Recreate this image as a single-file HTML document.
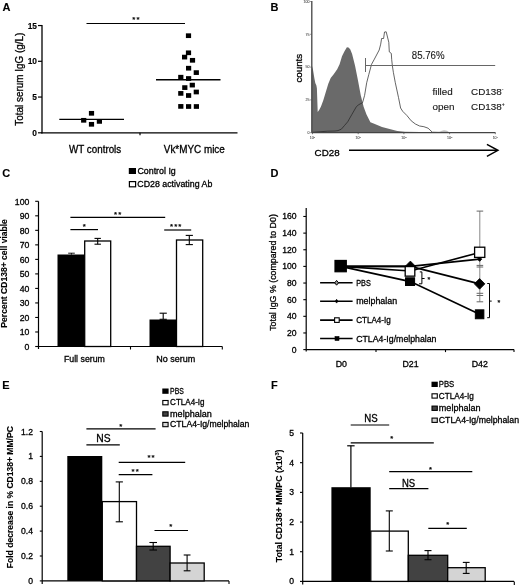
<!DOCTYPE html>
<html><head><meta charset="utf-8"><style>
html,body{margin:0;padding:0;background:#fff;width:520px;height:586px;overflow:hidden}
svg{display:block;font-family:"Liberation Sans", sans-serif;filter:grayscale(1) blur(0.3px)}
text{stroke-width:0.3px}
text[font-weight=bold]{stroke-width:0.12px}
</style></head><body>
<svg width="520" height="586" viewBox="0 0 520 586">
<rect width="520" height="586" fill="#fff"/>
<text x="2.5" y="11.2" font-size="11" text-anchor="start" fill="#000" stroke="#000" font-weight="bold" >A</text>
<line x1="42" y1="25.05" x2="42" y2="133.4" stroke="#000" stroke-width="1.3" />
<line x1="41.4" y1="132.8" x2="237.5" y2="132.8" stroke="#000" stroke-width="1.3" />
<line x1="38" y1="132.8" x2="42" y2="132.8" stroke="#000" stroke-width="1.2" />
<text x="37" y="135.8" font-size="8.4" text-anchor="end" fill="#000" stroke="#000" font-weight="bold" >0</text>
<line x1="38" y1="97.05" x2="42" y2="97.05" stroke="#000" stroke-width="1.2" />
<text x="37" y="100.05" font-size="8.4" text-anchor="end" fill="#000" stroke="#000" font-weight="bold" >5</text>
<line x1="38" y1="61.3" x2="42" y2="61.3" stroke="#000" stroke-width="1.2" />
<text x="37" y="64.3" font-size="8.4" text-anchor="end" fill="#000" stroke="#000" font-weight="bold" >10</text>
<line x1="38" y1="25.55" x2="42" y2="25.55" stroke="#000" stroke-width="1.2" />
<text x="37" y="28.55" font-size="8.4" text-anchor="end" fill="#000" stroke="#000" font-weight="bold" >15</text>
<line x1="140" y1="132.8" x2="140" y2="135.3" stroke="#000" stroke-width="1.2" />
<text x="23.2" y="79.2" font-size="10" text-anchor="middle" fill="#000" stroke="#000" textLength="93" lengthAdjust="spacingAndGlyphs" transform="rotate(-90 23.2 79.2)" >Total serum IgG (g/L)</text>
<text x="95.1" y="153.2" font-size="10.2" text-anchor="middle" fill="#000" stroke="#000" textLength="52.2" lengthAdjust="spacingAndGlyphs" >WT controls</text>
<text x="194.3" y="153.2" font-size="10.2" text-anchor="middle" fill="#000" stroke="#000" textLength="61" lengthAdjust="spacingAndGlyphs" >Vk*MYC mice</text>
<line x1="86.5" y1="23.5" x2="185" y2="23.5" stroke="#000" stroke-width="1.2" />
<text x="136.39" y="21.6" font-size="7.8" text-anchor="middle" fill="#000" stroke="#000" font-weight="bold" letter-spacing="1.17">**</text>
<rect x="81.1" y="117.95" width="5.2" height="4.7" fill="#000" stroke="none" stroke-width="0"/>
<rect x="88.9" y="110.95" width="5.2" height="4.7" fill="#000" stroke="none" stroke-width="0"/>
<rect x="88.9" y="121.95" width="5.2" height="4.7" fill="#000" stroke="none" stroke-width="0"/>
<rect x="96.8" y="119.05" width="5.2" height="4.7" fill="#000" stroke="none" stroke-width="0"/>
<rect x="185.9" y="33.35" width="5.2" height="4.7" fill="#000" stroke="none" stroke-width="0"/>
<rect x="185.9" y="50.45" width="5.2" height="4.7" fill="#000" stroke="none" stroke-width="0"/>
<rect x="182.0" y="54.75" width="5.2" height="4.7" fill="#000" stroke="none" stroke-width="0"/>
<rect x="189.9" y="57.95" width="5.2" height="4.7" fill="#000" stroke="none" stroke-width="0"/>
<rect x="186.0" y="65.85" width="5.2" height="4.7" fill="#000" stroke="none" stroke-width="0"/>
<rect x="193.7" y="70.25" width="5.2" height="4.7" fill="#000" stroke="none" stroke-width="0"/>
<rect x="178.2" y="74.85" width="5.2" height="4.7" fill="#000" stroke="none" stroke-width="0"/>
<rect x="186.0" y="76.15" width="5.2" height="4.7" fill="#000" stroke="none" stroke-width="0"/>
<rect x="189.7" y="82.75" width="5.2" height="4.7" fill="#000" stroke="none" stroke-width="0"/>
<rect x="182.2" y="85.25" width="5.2" height="4.7" fill="#000" stroke="none" stroke-width="0"/>
<rect x="178.2" y="91.05" width="5.2" height="4.7" fill="#000" stroke="none" stroke-width="0"/>
<rect x="186.0" y="93.15" width="5.2" height="4.7" fill="#000" stroke="none" stroke-width="0"/>
<rect x="193.7" y="89.65" width="5.2" height="4.7" fill="#000" stroke="none" stroke-width="0"/>
<rect x="178.2" y="104.05" width="5.2" height="4.7" fill="#000" stroke="none" stroke-width="0"/>
<rect x="186.0" y="104.15" width="5.2" height="4.7" fill="#000" stroke="none" stroke-width="0"/>
<rect x="193.8" y="104.15" width="5.2" height="4.7" fill="#000" stroke="none" stroke-width="0"/>
<line x1="59.3" y1="119.4" x2="124" y2="119.4" stroke="#000" stroke-width="1.35" />
<line x1="156" y1="79.7" x2="220.5" y2="79.7" stroke="#000" stroke-width="1.35" />
<text x="270.6" y="11.2" font-size="11" text-anchor="start" fill="#000" stroke="#000" font-weight="bold" >B</text>
<polygon points="312,132.7 312,66 312.9,69.2 314.5,78.9 315.3,83 316.4,85.4 316.9,88.6 317.7,112.1 319.3,109.7 321,106.5 323.4,100 325.8,91.9 328.3,83.8 330.7,78.1 333.9,74 337.2,69.2 339.6,64.3 342,56.2 344.5,51.3 346.9,47.3 348.5,47.5 350.2,49.2 352.1,54 355,65.6 357.9,80 360.8,95.4 363.7,107 366.5,114.6 370.4,122.3 374.2,123.8 382,127 389.6,129 397.3,131 405,131.8 420,132 440,132 455,132.4 460,132.7" fill="#6a6a6a"/>
<polygon points="438,132.7 441,131 444,130.2 447,130.8 450,132.7" fill="#bbb"/>
<polyline points="312,132.4 327.4,131.2 335,131 338,130.6 341.3,129.2 344.5,125.5 347.7,121.8 351.9,114.4 356.2,107 358.3,104.9 360.4,103.8 362.5,102.8 364.6,95.4 366.7,82.7 368.8,74.5 371.5,64.4 374.4,59.1 379.2,50 380.7,44.2 381.6,38.5 383.6,38.5 384.5,32 386.2,31.8 388.8,42.3 389.3,51.9 391.3,53.4 391.7,59.6 392.4,66 393.4,72.5 395.3,82.7 398.5,97.5 400.6,108 402.7,111.3 406.9,115.5 411.2,120.8 415.4,124 419.6,126 423.9,126.7 428.1,128.2 432.3,132.2 440,132.4" fill="none" stroke="#222" stroke-width="0.7" stroke-linejoin="round"/>
<line x1="311.8" y1="1" x2="311.8" y2="132.7" stroke="#444" stroke-width="1.3" />
<line x1="311.8" y1="132.7" x2="495.5" y2="132.7" stroke="#444" stroke-width="1.3" />
<line x1="310.3" y1="132.7" x2="311.8" y2="132.7" stroke="#555" stroke-width="0.8" />
<text x="309.5" y="133.9" font-size="3.6" text-anchor="end" fill="#555" stroke="#555" style="stroke-width:0.1px">0</text>
<line x1="310.3" y1="99.9" x2="311.8" y2="99.9" stroke="#555" stroke-width="0.8" />
<text x="309.5" y="101.1" font-size="3.6" text-anchor="end" fill="#555" stroke="#555" style="stroke-width:0.1px">25</text>
<line x1="310.3" y1="67.1" x2="311.8" y2="67.1" stroke="#555" stroke-width="0.8" />
<text x="309.5" y="68.3" font-size="3.6" text-anchor="end" fill="#555" stroke="#555" style="stroke-width:0.1px">50</text>
<line x1="310.3" y1="34.3" x2="311.8" y2="34.3" stroke="#555" stroke-width="0.8" />
<text x="309.5" y="35.5" font-size="3.6" text-anchor="end" fill="#555" stroke="#555" style="stroke-width:0.1px">75</text>
<line x1="310.3" y1="1.5" x2="311.8" y2="1.5" stroke="#555" stroke-width="0.8" />
<text x="309.5" y="2.7" font-size="3.6" text-anchor="end" fill="#555" stroke="#555" style="stroke-width:0.1px">100</text>
<line x1="312.5" y1="132.7" x2="312.5" y2="134.2" stroke="#555" stroke-width="0.8" />
<text x="312.5" y="138.8" font-size="3.6" text-anchor="middle" fill="#555" stroke="#555" style="stroke-width:0.1px">10<tspan font-size="2.4" dy="-1.2">0</tspan></text>
<line x1="358.2" y1="132.7" x2="358.2" y2="134.2" stroke="#555" stroke-width="0.8" />
<text x="358.2" y="138.8" font-size="3.6" text-anchor="middle" fill="#555" stroke="#555" style="stroke-width:0.1px">10<tspan font-size="2.4" dy="-1.2">1</tspan></text>
<line x1="403.9" y1="132.7" x2="403.9" y2="134.2" stroke="#555" stroke-width="0.8" />
<text x="403.9" y="138.8" font-size="3.6" text-anchor="middle" fill="#555" stroke="#555" style="stroke-width:0.1px">10<tspan font-size="2.4" dy="-1.2">2</tspan></text>
<line x1="449.6" y1="132.7" x2="449.6" y2="134.2" stroke="#555" stroke-width="0.8" />
<text x="449.6" y="138.8" font-size="3.6" text-anchor="middle" fill="#555" stroke="#555" style="stroke-width:0.1px">10<tspan font-size="2.4" dy="-1.2">3</tspan></text>
<line x1="495.3" y1="132.7" x2="495.3" y2="134.2" stroke="#555" stroke-width="0.8" />
<text x="495.3" y="138.8" font-size="3.6" text-anchor="middle" fill="#555" stroke="#555" style="stroke-width:0.1px">10<tspan font-size="2.4" dy="-1.2">4</tspan></text>
<text x="301.9" y="68.2" font-size="9.8" text-anchor="middle" fill="#000" stroke="#000" textLength="28.7" lengthAdjust="spacingAndGlyphs" transform="rotate(-90 301.9 68.2)" >counts</text>
<line x1="365.5" y1="58" x2="365.5" y2="72" stroke="#666" stroke-width="1.0" />
<line x1="365.5" y1="65.5" x2="495.2" y2="65.5" stroke="#666" stroke-width="1.0" />
<text x="411.8" y="58.8" font-size="10" text-anchor="start" fill="#1a1a1a" stroke="#1a1a1a" textLength="32.8" lengthAdjust="spacingAndGlyphs" style="stroke-width:0.12px">85.76%</text>
<text x="432.5" y="94.6" font-size="9.9" text-anchor="start" fill="#1a1a1a" stroke="#1a1a1a" textLength="20.2" lengthAdjust="spacingAndGlyphs" style="stroke-width:0.15px">filled</text>
<text x="471" y="94.6" font-size="9.9" text-anchor="start" fill="#1a1a1a" stroke="#1a1a1a" style="stroke-width:0.15px">CD138<tspan font-size="5" dy="-4">-</tspan></text>
<text x="432.5" y="109.7" font-size="9.9" text-anchor="start" fill="#1a1a1a" stroke="#1a1a1a" style="stroke-width:0.15px">open</text>
<text x="471" y="109.7" font-size="9.9" text-anchor="start" fill="#1a1a1a" stroke="#1a1a1a" style="stroke-width:0.15px">CD138<tspan font-size="5" dy="-4">+</tspan></text>
<text x="314.6" y="155.6" font-size="9.8" text-anchor="start" fill="#000" stroke="#000" textLength="25" lengthAdjust="spacingAndGlyphs" >CD28</text>
<line x1="349" y1="150.3" x2="497" y2="150.3" stroke="#000" stroke-width="1.5" />
<polyline points="486.9,144.4 497.9,150.3 486.9,156.3" fill="none" stroke="#000" stroke-width="1.5" />
<text x="2.3" y="177.3" font-size="11" text-anchor="start" fill="#000" stroke="#000" font-weight="bold" >C</text>
<line x1="38.5" y1="201.3" x2="38.5" y2="349.0" stroke="#000" stroke-width="1.2" />
<line x1="38.5" y1="346.5" x2="222.3" y2="346.5" stroke="#000" stroke-width="1.2" />
<line x1="35.2" y1="346.5" x2="38.5" y2="346.5" stroke="#000" stroke-width="1.1" />
<text x="29.3" y="349.8" font-size="8.7" text-anchor="end" fill="#000" stroke="#000" >0</text>
<line x1="35.2" y1="331.98" x2="38.5" y2="331.98" stroke="#000" stroke-width="1.1" />
<text x="29.3" y="335.28" font-size="8.7" text-anchor="end" fill="#000" stroke="#000" >10</text>
<line x1="35.2" y1="317.46" x2="38.5" y2="317.46" stroke="#000" stroke-width="1.1" />
<text x="29.3" y="320.76" font-size="8.7" text-anchor="end" fill="#000" stroke="#000" >20</text>
<line x1="35.2" y1="302.94" x2="38.5" y2="302.94" stroke="#000" stroke-width="1.1" />
<text x="29.3" y="306.24" font-size="8.7" text-anchor="end" fill="#000" stroke="#000" >30</text>
<line x1="35.2" y1="288.42" x2="38.5" y2="288.42" stroke="#000" stroke-width="1.1" />
<text x="29.3" y="291.72" font-size="8.7" text-anchor="end" fill="#000" stroke="#000" >40</text>
<line x1="35.2" y1="273.9" x2="38.5" y2="273.9" stroke="#000" stroke-width="1.1" />
<text x="29.3" y="277.2" font-size="8.7" text-anchor="end" fill="#000" stroke="#000" >50</text>
<line x1="35.2" y1="259.38" x2="38.5" y2="259.38" stroke="#000" stroke-width="1.1" />
<text x="29.3" y="262.68" font-size="8.7" text-anchor="end" fill="#000" stroke="#000" >60</text>
<line x1="35.2" y1="244.86" x2="38.5" y2="244.86" stroke="#000" stroke-width="1.1" />
<text x="29.3" y="248.16" font-size="8.7" text-anchor="end" fill="#000" stroke="#000" >70</text>
<line x1="35.2" y1="230.34" x2="38.5" y2="230.34" stroke="#000" stroke-width="1.1" />
<text x="29.3" y="233.64" font-size="8.7" text-anchor="end" fill="#000" stroke="#000" >80</text>
<line x1="35.2" y1="215.82" x2="38.5" y2="215.82" stroke="#000" stroke-width="1.1" />
<text x="29.3" y="219.12" font-size="8.7" text-anchor="end" fill="#000" stroke="#000" >90</text>
<line x1="35.2" y1="201.3" x2="38.5" y2="201.3" stroke="#000" stroke-width="1.1" />
<text x="29.3" y="204.6" font-size="8.7" text-anchor="end" fill="#000" stroke="#000" >100</text>
<line x1="130.5" y1="346.5" x2="130.5" y2="349.5" stroke="#000" stroke-width="1.1" />
<line x1="222.3" y1="346.5" x2="222.3" y2="349.5" stroke="#000" stroke-width="1.1" />
<text x="7.3" y="273.4" font-size="8.6" text-anchor="middle" fill="#000" stroke="#000" font-weight="bold" textLength="108.5" lengthAdjust="spacingAndGlyphs" transform="rotate(-90 7.3 273.4)" >Percent CD138+ cell viable</text>
<text x="84.4" y="361.5" font-size="8.8" text-anchor="middle" fill="#000" stroke="#000" textLength="41" lengthAdjust="spacingAndGlyphs" >Full serum</text>
<text x="175.7" y="361.5" font-size="8.8" text-anchor="middle" fill="#000" stroke="#000" textLength="39" lengthAdjust="spacingAndGlyphs" >No serum</text>
<rect x="57.5" y="254.5" width="27.2" height="92.0" fill="#000" stroke="none" stroke-width="0"/>
<rect x="84.7" y="241" width="26" height="105.5" fill="#fff" stroke="#000" stroke-width="1.3"/>
<rect x="149.5" y="319.5" width="27" height="27.0" fill="#000" stroke="none" stroke-width="0"/>
<rect x="176.5" y="240" width="26.2" height="106.5" fill="#fff" stroke="#000" stroke-width="1.3"/>
<line x1="71.4" y1="253.2" x2="71.4" y2="254.6" stroke="#000" stroke-width="1.0" />
<line x1="68.2" y1="253.2" x2="74.8" y2="253.2" stroke="#000" stroke-width="0.9" />
<line x1="97.7" y1="238.4" x2="97.7" y2="244.2" stroke="#000" stroke-width="1.1" />
<line x1="94.5" y1="238.4" x2="100.9" y2="238.4" stroke="#000" stroke-width="1.1" />
<line x1="94.5" y1="244.2" x2="100.9" y2="244.2" stroke="#000" stroke-width="1.1" />
<line x1="163.2" y1="313.2" x2="163.2" y2="319.3" stroke="#000" stroke-width="1.1" />
<line x1="159.6" y1="313.2" x2="166.8" y2="313.2" stroke="#000" stroke-width="1.1" />
<line x1="159.6" y1="319.3" x2="166.8" y2="319.3" stroke="#000" stroke-width="1.1" />
<line x1="189.3" y1="235.4" x2="189.3" y2="244.6" stroke="#000" stroke-width="1.1" />
<line x1="185.7" y1="235.4" x2="192.9" y2="235.4" stroke="#000" stroke-width="1.1" />
<line x1="185.7" y1="244.6" x2="192.9" y2="244.6" stroke="#000" stroke-width="1.1" />
<line x1="70.4" y1="217.4" x2="165.2" y2="217.4" stroke="#000" stroke-width="1.2" />
<text x="118.18" y="216.5" font-size="7.8" text-anchor="middle" fill="#000" stroke="#000" font-weight="bold" letter-spacing="1.17">**</text>
<line x1="70.4" y1="229.6" x2="98" y2="229.6" stroke="#000" stroke-width="1.2" />
<text x="84.2" y="228.5" font-size="7.8" text-anchor="middle" fill="#000" stroke="#000" font-weight="bold" >*</text>
<line x1="164.2" y1="230" x2="191.2" y2="230" stroke="#000" stroke-width="1.2" />
<text x="176.28" y="228.5" font-size="7.8" text-anchor="middle" fill="#000" stroke="#000" font-weight="bold" letter-spacing="1.17">***</text>
<rect x="128.8" y="168" width="7.2" height="6" fill="#000" stroke="none" stroke-width="0"/>
<text x="137.4" y="174.0" font-size="8.8" text-anchor="start" fill="#000" stroke="#000" textLength="38.4" lengthAdjust="spacingAndGlyphs" >Control Ig</text>
<rect x="129.4" y="181.6" width="6.2" height="5.2" fill="#fff" stroke="#000" stroke-width="1.2"/>
<text x="137.3" y="187.1" font-size="8.8" text-anchor="start" fill="#000" stroke="#000" textLength="75" lengthAdjust="spacingAndGlyphs" >CD28 activating Ab</text>
<text x="270.6" y="177.3" font-size="11" text-anchor="start" fill="#000" stroke="#000" font-weight="bold" >D</text>
<line x1="306.2" y1="208" x2="306.2" y2="351.6" stroke="#000" stroke-width="1.2" />
<line x1="306.2" y1="349.6" x2="514" y2="349.6" stroke="#000" stroke-width="1.2" />
<line x1="303.3" y1="349.6" x2="306.2" y2="349.6" stroke="#000" stroke-width="1.1" />
<text x="296.5" y="352.6" font-size="8.6" text-anchor="end" fill="#000" stroke="#000" >0</text>
<line x1="303.3" y1="332.96" x2="306.2" y2="332.96" stroke="#000" stroke-width="1.1" />
<text x="296.5" y="335.96" font-size="8.6" text-anchor="end" fill="#000" stroke="#000" >20</text>
<line x1="303.3" y1="316.32" x2="306.2" y2="316.32" stroke="#000" stroke-width="1.1" />
<text x="296.5" y="319.32" font-size="8.6" text-anchor="end" fill="#000" stroke="#000" >40</text>
<line x1="303.3" y1="299.68" x2="306.2" y2="299.68" stroke="#000" stroke-width="1.1" />
<text x="296.5" y="302.68" font-size="8.6" text-anchor="end" fill="#000" stroke="#000" >60</text>
<line x1="303.3" y1="283.04" x2="306.2" y2="283.04" stroke="#000" stroke-width="1.1" />
<text x="296.5" y="286.04" font-size="8.6" text-anchor="end" fill="#000" stroke="#000" >80</text>
<line x1="303.3" y1="266.4" x2="306.2" y2="266.4" stroke="#000" stroke-width="1.1" />
<text x="296.5" y="269.4" font-size="8.6" text-anchor="end" fill="#000" stroke="#000" >100</text>
<line x1="303.3" y1="249.76" x2="306.2" y2="249.76" stroke="#000" stroke-width="1.1" />
<text x="296.5" y="252.76" font-size="8.6" text-anchor="end" fill="#000" stroke="#000" >120</text>
<line x1="303.3" y1="233.12" x2="306.2" y2="233.12" stroke="#000" stroke-width="1.1" />
<text x="296.5" y="236.12" font-size="8.6" text-anchor="end" fill="#000" stroke="#000" >140</text>
<line x1="303.3" y1="216.48" x2="306.2" y2="216.48" stroke="#000" stroke-width="1.1" />
<text x="296.5" y="219.48" font-size="8.6" text-anchor="end" fill="#000" stroke="#000" >160</text>
<line x1="376" y1="349.6" x2="376" y2="352.1" stroke="#000" stroke-width="1.1" />
<line x1="445.5" y1="349.6" x2="445.5" y2="352.1" stroke="#000" stroke-width="1.1" />
<line x1="514" y1="349.6" x2="514" y2="352.1" stroke="#000" stroke-width="1.1" />
<text x="275.9" y="272.5" font-size="8.8" text-anchor="middle" fill="#000" stroke="#000" textLength="116.7" lengthAdjust="spacingAndGlyphs" transform="rotate(-90 275.9 272.5)" >Total IgG % (compared to D0)</text>
<text x="341.3" y="366.8" font-size="8.8" text-anchor="middle" fill="#000" stroke="#000" >D0</text>
<text x="410.6" y="366.8" font-size="8.8" text-anchor="middle" fill="#000" stroke="#000" >D21</text>
<text x="479.8" y="366.8" font-size="8.8" text-anchor="middle" fill="#000" stroke="#000" >D42</text>
<line x1="479.8" y1="211.1" x2="479.8" y2="301.8" stroke="#888" stroke-width="1.0" />
<line x1="476.6" y1="211.1" x2="483.2" y2="211.1" stroke="#666" stroke-width="1.0" />
<line x1="476.6" y1="265.4" x2="483.2" y2="265.4" stroke="#666" stroke-width="1.0" />
<line x1="476.6" y1="267.0" x2="483.2" y2="267.0" stroke="#666" stroke-width="1.0" />
<line x1="476.6" y1="293.3" x2="483.2" y2="293.3" stroke="#666" stroke-width="1.0" />
<line x1="476.6" y1="295.5" x2="483.2" y2="295.5" stroke="#666" stroke-width="1.0" />
<line x1="476.6" y1="301.8" x2="483.2" y2="301.8" stroke="#666" stroke-width="1.0" />
<polyline points="340.8,266.4 410.4,266.4 479.6,283.87" fill="none" stroke="#000" stroke-width="1.6" />
<polyline points="340.8,266.4 410.4,266.4 479.6,259.16" fill="none" stroke="#000" stroke-width="1.6" />
<polyline points="340.8,266.4 410.4,270.98 479.6,252.42" fill="none" stroke="#000" stroke-width="1.6" />
<polyline points="340.8,266.4 410.4,281.63 479.6,314.24" fill="none" stroke="#000" stroke-width="1.6" />
<polygon points="410.4,261.1 415.7,266.40000000000003 410.4,271.70000000000005 405.09999999999997,266.40000000000003" fill="#000" stroke="#000" stroke-width="0.8"/>
<polygon points="479.6,278.572 484.90000000000003,283.872 479.6,289.172 474.3,283.872" fill="#000" stroke="#000" stroke-width="0.8"/>
<polygon points="479.6,256.96160000000003 481.8,259.1616 479.6,261.3616 477.40000000000003,259.1616" fill="#000" stroke="#000" stroke-width="0.8"/>
<rect x="335.0" y="260.45" width="11.3" height="11.3" fill="#000" stroke="#000" stroke-width="1.2"/>
<rect x="405.2" y="266.55" width="9.6" height="9.6" fill="#fff" stroke="#000" stroke-width="1.3"/>
<rect x="474.6" y="247.2" width="10.2" height="10.2" fill="#fff" stroke="#000" stroke-width="1.3"/>
<rect x="405.5" y="277.8" width="9.1" height="7.7" fill="#000" stroke="#000" stroke-width="1.0"/>
<rect x="475.3" y="309.8" width="8.6" height="9.0" fill="#000" stroke="#000" stroke-width="0.9"/>
<polyline points="419.8,271.9 421.9,271.9 421.9,283.8 419,283.8" fill="none" stroke="#000" stroke-width="1"/>
<line x1="421.9" y1="278.5" x2="424.6" y2="278.5" stroke="#000" stroke-width="1" />
<text x="428.8" y="282.0" font-size="7" text-anchor="middle" fill="#000" stroke="#000" font-weight="bold" >*</text>
<polyline points="487.2,283.5 489.5,283.5 489.5,317.7 487.2,317.7" fill="none" stroke="#000" stroke-width="1"/>
<line x1="489.5" y1="301.1" x2="491.7" y2="301.1" stroke="#000" stroke-width="1" />
<text x="498.8" y="304.5" font-size="7" text-anchor="middle" fill="#000" stroke="#000" font-weight="bold" >*</text>
<line x1="320.1" y1="282.8" x2="352.6" y2="282.8" stroke="#000" stroke-width="1.6" />
<polygon points="336.6,280.40000000000003 338.5,282.8 336.6,285.2 334.70000000000005,282.8" fill="#999" stroke="#000" stroke-width="1.0"/>
<text x="356.2" y="285.9" font-size="8.8" text-anchor="start" fill="#000" stroke="#000" textLength="14.6" lengthAdjust="spacingAndGlyphs" >PBS</text>
<line x1="320.1" y1="301.2" x2="352.6" y2="301.2" stroke="#000" stroke-width="1.6" />
<polygon points="336.6,299.3 337.90000000000003,301.2 336.6,303.09999999999997 335.3,301.2" fill="#000" stroke="#000" stroke-width="0.7"/>
<text x="356.2" y="304.3" font-size="8.8" text-anchor="start" fill="#000" stroke="#000" textLength="40.9" lengthAdjust="spacingAndGlyphs" >melphalan</text>
<line x1="320.1" y1="320.1" x2="352.6" y2="320.1" stroke="#000" stroke-width="1.6" />
<rect x="334.6" y="317.8" width="4.6" height="4.6" fill="#fff" stroke="#000" stroke-width="1.1"/>
<text x="356.2" y="323.2" font-size="8.8" text-anchor="start" fill="#000" stroke="#000" textLength="34.6" lengthAdjust="spacingAndGlyphs" >CTLA4-Ig</text>
<line x1="320.1" y1="338.5" x2="352.6" y2="338.5" stroke="#000" stroke-width="1.6" />
<rect x="335.0" y="336.5" width="4.0" height="4.0" fill="#000" stroke="#000" stroke-width="0.6"/>
<text x="356.2" y="341.6" font-size="8.8" text-anchor="start" fill="#000" stroke="#000" textLength="80.3" lengthAdjust="spacingAndGlyphs" >CTLA4-Ig/melphalan</text>
<text x="2.3" y="388.8" font-size="11" text-anchor="start" fill="#000" stroke="#000" font-weight="bold" >E</text>
<line x1="42.2" y1="431.5" x2="42.2" y2="583.9" stroke="#000" stroke-width="1.2" />
<line x1="42.2" y1="580.9" x2="229" y2="580.9" stroke="#000" stroke-width="1.2" />
<line x1="39.8" y1="580.9" x2="42.2" y2="580.9" stroke="#000" stroke-width="1.1" />
<text x="33" y="583.9" font-size="8.6" text-anchor="end" fill="#000" stroke="#000" >0</text>
<line x1="39.8" y1="556.0" x2="42.2" y2="556.0" stroke="#000" stroke-width="1.1" />
<text x="33" y="559.0" font-size="8.6" text-anchor="end" fill="#000" stroke="#000" >0.2</text>
<line x1="39.8" y1="531.1" x2="42.2" y2="531.1" stroke="#000" stroke-width="1.1" />
<text x="33" y="534.1" font-size="8.6" text-anchor="end" fill="#000" stroke="#000" >0.4</text>
<line x1="39.8" y1="506.2" x2="42.2" y2="506.2" stroke="#000" stroke-width="1.1" />
<text x="33" y="509.2" font-size="8.6" text-anchor="end" fill="#000" stroke="#000" >0.6</text>
<line x1="39.8" y1="481.3" x2="42.2" y2="481.3" stroke="#000" stroke-width="1.1" />
<text x="33" y="484.3" font-size="8.6" text-anchor="end" fill="#000" stroke="#000" >0.8</text>
<line x1="39.8" y1="456.4" x2="42.2" y2="456.4" stroke="#000" stroke-width="1.1" />
<text x="33" y="459.4" font-size="8.6" text-anchor="end" fill="#000" stroke="#000" >1</text>
<line x1="39.8" y1="431.5" x2="42.2" y2="431.5" stroke="#000" stroke-width="1.1" />
<text x="33" y="434.5" font-size="8.6" text-anchor="end" fill="#000" stroke="#000" >1.2</text>
<line x1="229" y1="580.9" x2="229" y2="583.9" stroke="#000" stroke-width="1.1" />
<text x="13.2" y="497.2" font-size="8.6" text-anchor="middle" fill="#000" stroke="#000" font-weight="bold" textLength="142" lengthAdjust="spacingAndGlyphs" transform="rotate(-90 13.2 497.2)" >Fold decrease in % CD138+ MM/PC</text>
<rect x="67.3" y="456.0" width="35" height="124.9" fill="#000" stroke="none" stroke-width="0"/>
<rect x="102.3" y="501.6" width="34.2" height="79.3" fill="#fff" stroke="#000" stroke-width="1.3"/>
<rect x="136.5" y="546.3" width="33.6" height="34.6" fill="#424242" stroke="#000" stroke-width="1.3"/>
<rect x="170.1" y="563" width="34.1" height="17.9" fill="#d4d4d4" stroke="#000" stroke-width="1.3"/>
<line x1="119.3" y1="481.9" x2="119.3" y2="521.8" stroke="#000" stroke-width="1.1" />
<line x1="115.7" y1="481.9" x2="122.9" y2="481.9" stroke="#000" stroke-width="1.1" />
<line x1="115.7" y1="521.8" x2="122.9" y2="521.8" stroke="#000" stroke-width="1.1" />
<line x1="153.2" y1="542.5" x2="153.2" y2="550" stroke="#000" stroke-width="1.1" />
<line x1="149.4" y1="542.5" x2="157.0" y2="542.5" stroke="#000" stroke-width="1.1" />
<line x1="149.4" y1="550" x2="157.0" y2="550" stroke="#000" stroke-width="1.1" />
<line x1="187.1" y1="555" x2="187.1" y2="570.8" stroke="#000" stroke-width="1.1" />
<line x1="183.7" y1="555" x2="190.5" y2="555" stroke="#000" stroke-width="1.1" />
<line x1="183.7" y1="570.8" x2="190.5" y2="570.8" stroke="#000" stroke-width="1.1" />
<line x1="86.4" y1="428.9" x2="155.6" y2="428.9" stroke="#000" stroke-width="1.2" />
<text x="120.8" y="429.3" font-size="7.8" text-anchor="middle" fill="#000" stroke="#000" font-weight="bold" >*</text>
<line x1="86.4" y1="444.8" x2="119.8" y2="444.8" stroke="#000" stroke-width="1.2" />
<text x="103.4" y="442.1" font-size="10" text-anchor="middle" fill="#000" stroke="#000" textLength="14.3" lengthAdjust="spacingAndGlyphs" >NS</text>
<line x1="118.7" y1="462.3" x2="185.2" y2="462.3" stroke="#000" stroke-width="1.2" />
<text x="151.59" y="459.8" font-size="7.8" text-anchor="middle" fill="#000" stroke="#000" font-weight="bold" letter-spacing="1.17">**</text>
<line x1="118.7" y1="474.7" x2="152.4" y2="474.7" stroke="#000" stroke-width="1.2" />
<text x="135.69" y="473.9" font-size="7.8" text-anchor="middle" fill="#000" stroke="#000" font-weight="bold" letter-spacing="1.17">**</text>
<line x1="154.5" y1="530.5" x2="188" y2="530.5" stroke="#000" stroke-width="1.2" />
<text x="170.8" y="528.9" font-size="7.8" text-anchor="middle" fill="#000" stroke="#000" font-weight="bold" >*</text>
<rect x="162.3" y="388.5" width="6.3" height="5.3" fill="#000" stroke="none" stroke-width="0"/>
<text x="170.1" y="394.2" font-size="8.8" text-anchor="start" fill="#000" stroke="#000" textLength="13.7" lengthAdjust="spacingAndGlyphs" >PBS</text>
<rect x="162.8" y="400.5" width="5.3" height="4.3" fill="#fff" stroke="#000" stroke-width="1.1"/>
<text x="170.1" y="405.4" font-size="8.8" text-anchor="start" fill="#000" stroke="#000" textLength="34.5" lengthAdjust="spacingAndGlyphs" >CTLA4-Ig</text>
<rect x="162.8" y="411.8" width="5.3" height="4.3" fill="#424242" stroke="#000" stroke-width="1.1"/>
<text x="170.1" y="416.5" font-size="8.8" text-anchor="start" fill="#000" stroke="#000" textLength="41.7" lengthAdjust="spacingAndGlyphs" >melphalan</text>
<rect x="162.8" y="422.4" width="5.3" height="4.3" fill="#d4d4d4" stroke="#000" stroke-width="1.1"/>
<text x="170.1" y="427.1" font-size="8.8" text-anchor="start" fill="#000" stroke="#000" textLength="79.3" lengthAdjust="spacingAndGlyphs" >CTLA4-Ig/melphalan</text>
<text x="271" y="388.8" font-size="11" text-anchor="start" fill="#000" stroke="#000" font-weight="bold" >F</text>
<line x1="302.7" y1="433.0" x2="302.7" y2="584.4" stroke="#000" stroke-width="1.2" />
<line x1="302.7" y1="581.4" x2="514" y2="581.4" stroke="#000" stroke-width="1.2" />
<line x1="300" y1="581.4" x2="302.7" y2="581.4" stroke="#000" stroke-width="1.1" />
<text x="294" y="584.4" font-size="8.6" text-anchor="end" fill="#000" stroke="#000" >0</text>
<line x1="300" y1="551.72" x2="302.7" y2="551.72" stroke="#000" stroke-width="1.1" />
<text x="294" y="554.72" font-size="8.6" text-anchor="end" fill="#000" stroke="#000" >1</text>
<line x1="300" y1="522.04" x2="302.7" y2="522.04" stroke="#000" stroke-width="1.1" />
<text x="294" y="525.04" font-size="8.6" text-anchor="end" fill="#000" stroke="#000" >2</text>
<line x1="300" y1="492.36" x2="302.7" y2="492.36" stroke="#000" stroke-width="1.1" />
<text x="294" y="495.36" font-size="8.6" text-anchor="end" fill="#000" stroke="#000" >3</text>
<line x1="300" y1="462.68" x2="302.7" y2="462.68" stroke="#000" stroke-width="1.1" />
<text x="294" y="465.68" font-size="8.6" text-anchor="end" fill="#000" stroke="#000" >4</text>
<line x1="300" y1="433.0" x2="302.7" y2="433.0" stroke="#000" stroke-width="1.1" />
<text x="294" y="436.0" font-size="8.6" text-anchor="end" fill="#000" stroke="#000" >5</text>
<line x1="514.3" y1="581.4" x2="514.3" y2="585.0" stroke="#000" stroke-width="1.1" />
<text x="282.2" y="505.9" font-size="8.6" text-anchor="middle" fill="#000" stroke="#000" font-weight="bold" textLength="112.8" lengthAdjust="spacingAndGlyphs" transform="rotate(-90 282.2 505.9)" >Total CD138+ MM/PC (x10<tspan font-size="5.5" dy="-3.5">3</tspan><tspan dy="3.5">)</tspan></text>
<rect x="331.4" y="487.2" width="39.3" height="94.2" fill="#000" stroke="none" stroke-width="0"/>
<rect x="370.8" y="531.1" width="37.5" height="50.3" fill="#fff" stroke="#000" stroke-width="1.3"/>
<rect x="408.3" y="555.3" width="39.4" height="26.1" fill="#424242" stroke="#000" stroke-width="1.3"/>
<rect x="447.7" y="567.7" width="37.5" height="13.7" fill="#d4d4d4" stroke="#000" stroke-width="1.3"/>
<line x1="350.9" y1="445.8" x2="350.9" y2="487.5" stroke="#000" stroke-width="1.2" />
<line x1="347.2" y1="445.8" x2="354.6" y2="445.8" stroke="#000" stroke-width="1.2" />
<line x1="389.3" y1="510.9" x2="389.3" y2="551" stroke="#000" stroke-width="1.1" />
<line x1="385.8" y1="510.9" x2="392.8" y2="510.9" stroke="#000" stroke-width="1.1" />
<line x1="385.8" y1="551" x2="392.8" y2="551" stroke="#000" stroke-width="1.1" />
<line x1="428" y1="550.6" x2="428" y2="559.7" stroke="#000" stroke-width="1.1" />
<line x1="424.5" y1="550.6" x2="431.5" y2="550.6" stroke="#000" stroke-width="1.1" />
<line x1="424.5" y1="559.7" x2="431.5" y2="559.7" stroke="#000" stroke-width="1.1" />
<line x1="466.2" y1="562.4" x2="466.2" y2="573.4" stroke="#000" stroke-width="1.1" />
<line x1="462.8" y1="562.4" x2="469.6" y2="562.4" stroke="#000" stroke-width="1.1" />
<line x1="462.8" y1="573.4" x2="469.6" y2="573.4" stroke="#000" stroke-width="1.1" />
<line x1="350.7" y1="425" x2="389.2" y2="425" stroke="#000" stroke-width="1.2" />
<text x="371" y="421.5" font-size="10" text-anchor="middle" fill="#000" stroke="#000" textLength="13.4" lengthAdjust="spacingAndGlyphs" >NS</text>
<line x1="350.7" y1="442.8" x2="433.8" y2="442.8" stroke="#000" stroke-width="1.2" />
<text x="391.8" y="441.05" font-size="7.5" text-anchor="middle" fill="#000" stroke="#000" font-weight="bold" >*</text>
<line x1="389.2" y1="471.7" x2="472.3" y2="471.7" stroke="#000" stroke-width="1.2" />
<text x="430.5" y="471.75" font-size="7.5" text-anchor="middle" fill="#000" stroke="#000" font-weight="bold" >*</text>
<line x1="389.2" y1="488.6" x2="428.4" y2="488.6" stroke="#000" stroke-width="1.2" />
<text x="408.5" y="486.9" font-size="10" text-anchor="middle" fill="#000" stroke="#000" textLength="13.2" lengthAdjust="spacingAndGlyphs" >NS</text>
<line x1="428.3" y1="528.3" x2="466.8" y2="528.3" stroke="#000" stroke-width="1.2" />
<text x="447.7" y="526.75" font-size="7.5" text-anchor="middle" fill="#000" stroke="#000" font-weight="bold" >*</text>
<rect x="431.5" y="381.7" width="6.3" height="5.3" fill="#000" stroke="none" stroke-width="0"/>
<text x="438.8" y="386.9" font-size="8.8" text-anchor="start" fill="#000" stroke="#000" textLength="15.4" lengthAdjust="spacingAndGlyphs" >PBS</text>
<rect x="432.0" y="393.8" width="5.3" height="4.3" fill="#fff" stroke="#000" stroke-width="1.1"/>
<text x="438.8" y="398.9" font-size="8.8" text-anchor="start" fill="#000" stroke="#000" textLength="35" lengthAdjust="spacingAndGlyphs" >CTLA4-Ig</text>
<rect x="432.0" y="406.1" width="5.3" height="4.3" fill="#424242" stroke="#000" stroke-width="1.1"/>
<text x="438.8" y="410.7" font-size="8.8" text-anchor="start" fill="#000" stroke="#000" textLength="41.8" lengthAdjust="spacingAndGlyphs" >melphalan</text>
<rect x="432.0" y="418.1" width="5.3" height="4.3" fill="#d4d4d4" stroke="#000" stroke-width="1.1"/>
<text x="438.8" y="422.8" font-size="8.8" text-anchor="start" fill="#000" stroke="#000" textLength="80.2" lengthAdjust="spacingAndGlyphs" >CTLA4-Ig/melphalan</text>
</svg>
</body></html>
